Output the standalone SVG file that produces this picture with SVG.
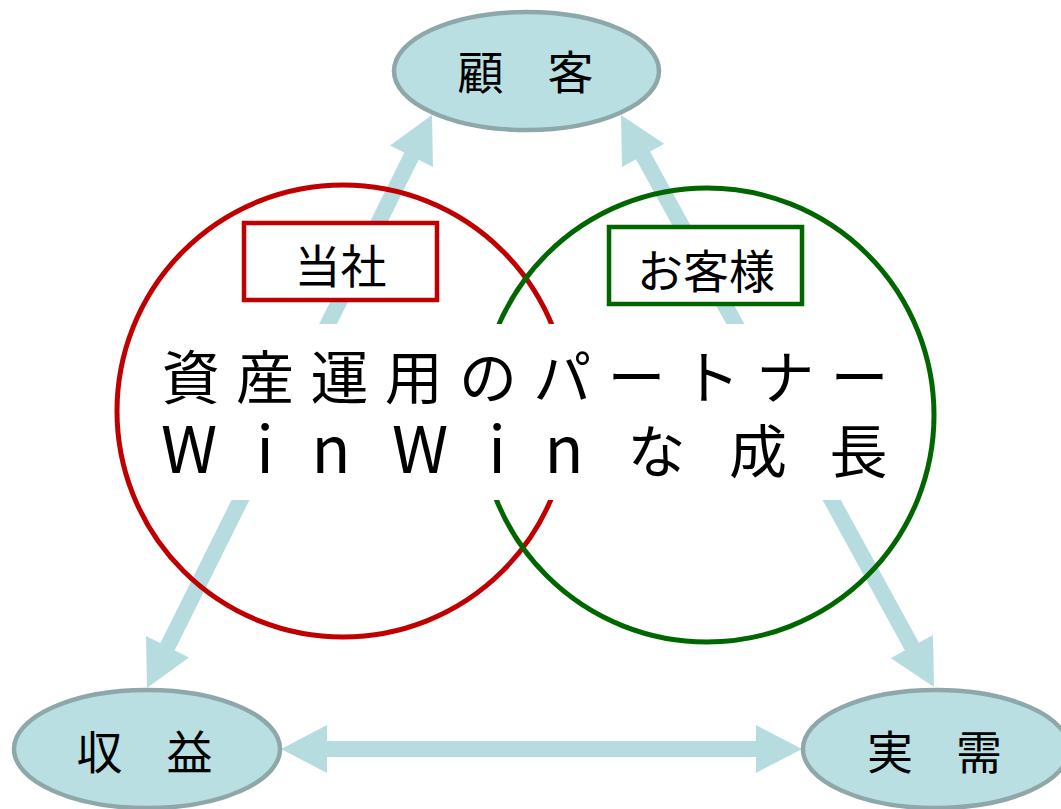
<svg xmlns="http://www.w3.org/2000/svg" width="1061" height="809" viewBox="0 0 1061 809">
<style>
.arrow{stroke:#b7dce0;stroke-width:16;fill:none;marker-start:url(#head);marker-end:url(#head)}
.ell{fill:#badfe2;stroke:#8ea7a9;stroke-width:4.5}
.lbl{font-family:"Noto Sans CJK JP","Noto Sans",sans-serif;font-size:46px;fill:#000;text-anchor:middle}
.big{font-family:"Noto Sans CJK JP","Noto Sans",sans-serif;font-size:58px;fill:#000;text-anchor:middle}
.lat{font-size:64px}
</style>
<defs>
<marker id="head" markerUnits="userSpaceOnUse" markerWidth="48" markerHeight="48" viewBox="0 0 46 48" refX="2" refY="24" orient="auto-start-reverse">
<path d="M0,0 L46,24 L0,48 Z" fill="#b7dce0"/>
</marker>
</defs>
<rect width="1061" height="809" fill="#fff"/>
<g id="connectors">
<line class="arrow" x1="166.6" y1="648.6" x2="412.4" y2="154.4"/>
<line class="arrow" x1="642.1" y1="153.6" x2="912.9" y2="648.4"/>
<line class="arrow" x1="325" y1="749" x2="758" y2="749"/>
</g>
<g id="circle-company">
<circle cx="343" cy="411" r="226" fill="none" stroke="#c00000" stroke-width="5"/>
</g>
<g id="circle-customer">
<circle cx="707" cy="415" r="227" fill="none" stroke="#006600" stroke-width="5"/>
</g>
<g id="center-text">
<rect x="145" y="324" width="760" height="176" fill="#fff"/>
<text class="big" y="399"><tspan x="190.8">資</tspan><tspan x="265.1">産</tspan><tspan x="339.4">運</tspan><tspan x="413.7">用</tspan><tspan x="488">の</tspan><tspan x="562.3">パ</tspan><tspan x="636.6">ー</tspan><tspan x="710.9">ト</tspan><tspan x="785.2">ナ</tspan><tspan x="859.5">ー</tspan></text>
<text class="big" y="473"><tspan class="lat" x="189">W</tspan><tspan class="lat" x="265">i</tspan><tspan class="lat" x="331">n</tspan><tspan class="lat" x="420">W</tspan><tspan class="lat" x="497">i</tspan><tspan class="lat" x="564">n</tspan><tspan x="656.5">な</tspan><tspan x="758">成</tspan><tspan x="858.5">長</tspan></text>
</g>
<g id="box-company">
<rect x="244" y="223" width="193" height="77" fill="#fff" stroke="#c00000" stroke-width="4.5"/>
<text class="lbl" x="340.5" y="283">当社</text>
</g>
<g id="box-customer">
<rect x="609" y="227" width="193" height="77" fill="#fff" stroke="#006600" stroke-width="4.5"/>
<text class="lbl" x="706" y="288">お客様</text>
</g>
<g id="node-customer">
<ellipse class="ell" cx="526.5" cy="71" rx="132.5" ry="59"/>
<text class="lbl" y="89"><tspan x="480.5">顧</tspan><tspan x="570.5">客</tspan></text>
</g>
<g id="node-revenue">
<ellipse class="ell" cx="147" cy="749" rx="133" ry="59"/>
<text class="lbl" y="769"><tspan x="99.5">収</tspan><tspan x="189.5">益</tspan></text>
</g>
<g id="node-demand">
<ellipse class="ell" cx="936" cy="749" rx="133" ry="59"/>
<text class="lbl" y="769"><tspan x="890">実</tspan><tspan x="979">需</tspan></text>
</g>
</svg>
